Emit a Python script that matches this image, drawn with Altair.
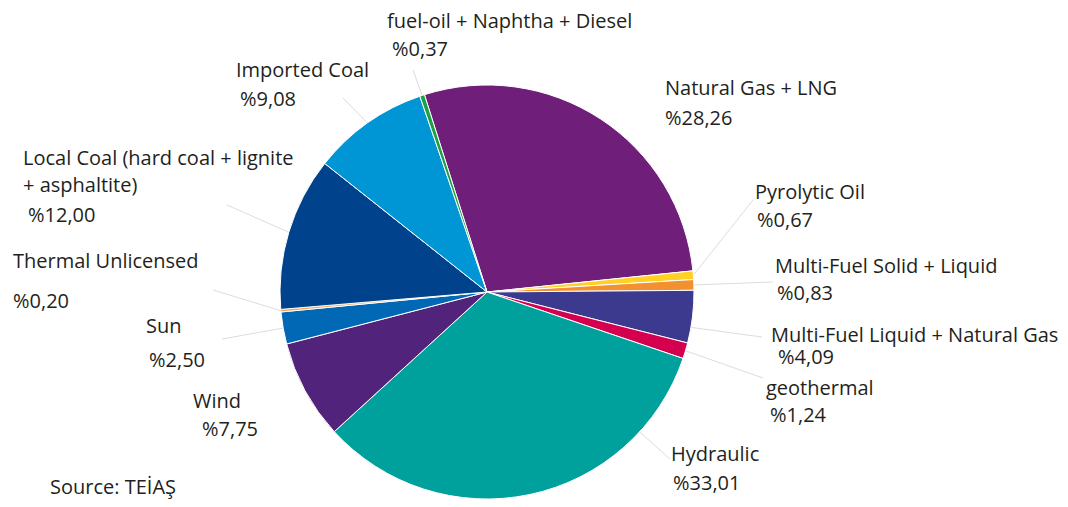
import math
import altair as alt
import pandas as pd

# ---- data ----
categories = [
    "Natural Gas + LNG",
    "Pyrolytic Oil",
    "Multi-Fuel Solid + Liquid",
    "Multi-Fuel Liquid + Natural Gas",
    "geothermal",
    "Hydraulic",
    "Wind",
    "Sun",
    "Thermal Unlicensed",
    "Local Coal (hard coal + lignite\n+ asphaltite)",
    "Imported Coal",
    "fuel-oil + Naphtha + Diesel",
]
shares = [28.26, 0.67, 0.83, 4.09, 1.24, 33.01, 7.75, 2.50, 0.20, 12.00, 9.08, 0.37]
colors = ["#6f1f7a", "#ffd124", "#f39131", "#3c3a8e", "#d4004f", "#00a19c",
          "#52237a", "#0068b4", "#f5a34f", "#00428b", "#0096d6", "#1fa044"]
source_text = ["Source: TEİAŞ"]

# ---- layout (page pixel positions of the annotations) ----
name_x = [665, 755, 775, 771, 766, 671, 193, 146, 13, 23, 236, 387]
name_y = [95, 199, 273, 342, 395, 461, 408, 333, 268, 165, 77, 28]
pct_x = [665, 757, 777, 778, 770, 673, 202, 149, 13, 28, 240, 392]
pct_y = [125, 227, 300, 364, 422, 490, 436, 367, 308, 222, 106, 56]
leader_end_x = [None, 753, 773, 762, 763, 670, None, 222, 213, 227, 343, 413]
leader_end_y = [None, 200, 282, 337, 378, 459, None, 339, 290, 205, 98, 70]
leader_anchor = [0.5, 0.5, 0.5, 0.7, 0.5, 0.2, 0.5, 0.5, 0.5, 0.5, 0.5, 0.5]

MARGIN = 8
W, H = 1052, 491
CX, CY, R = 487, 292, 207
START = math.radians(-17.6)

df = pd.DataFrame({
    "idx": list(range(len(categories))),
    "category": categories,
    "value": shares,
    "nx": name_x, "ny": name_y,
    "px": pct_x, "py": pct_y,
    "lx": leader_end_x, "ly": leader_end_y,
    "anchor": leader_anchor,
})

XS = alt.Scale(domain=[MARGIN, MARGIN + W], range=[0, W], nice=False, zero=False)
YS = alt.Scale(domain=[MARGIN, MARGIN + H], range=[0, H], nice=False, zero=False)

base = alt.Chart(df)

pie = base.mark_arc(outerRadius=R, stroke="white", strokeWidth=1).encode(
    theta=alt.Theta("value:Q", stack=True,
                    scale=alt.Scale(domain=[0, 100], range=[START, START + 2 * math.pi])),
    color=alt.Color("category:N", scale=alt.Scale(domain=categories, range=colors), legend=None),
    order=alt.Order("idx:Q", sort="ascending"),
    x=alt.value(CX - MARGIN),
    y=alt.value(CY - MARGIN),
)

leaders = base.transform_window(
    cum="sum(value)", sort=[alt.SortField("idx")]
).transform_calculate(
    ang=f"{START} + 2*PI*(datum.cum - datum.value*(1-datum.anchor))/100"
).transform_calculate(
    sx=f"{CX} + {R}*sin(datum.ang)",
    sy=f"{CY} - {R}*cos(datum.ang)",
).transform_filter(
    "isValid(datum.lx)"
).mark_rule(color="#dcdcdc", strokeWidth=1).encode(
    x=alt.X("sx:Q", scale=XS, axis=None),
    y=alt.Y("sy:Q", scale=YS, axis=None),
    x2="lx:Q",
    y2="ly:Q",
)

text_style = dict(font="Open Sans", fontSize=20, color="#231f20", align="left",
                  baseline="alphabetic")

names = base.mark_text(lineBreak="\n", lineHeight=27, **text_style).encode(
    x=alt.X("nx:Q", scale=XS, axis=None),
    y=alt.Y("ny:Q", scale=YS, axis=None),
    text="category:N",
)

pcts = base.transform_calculate(
    pct="'%' + replace(format(datum.value, '.2f'), '.', ',')"
).mark_text(**text_style).encode(
    x=alt.X("px:Q", scale=XS, axis=None),
    y=alt.Y("py:Q", scale=YS, axis=None),
    text="pct:N",
)

source = alt.Chart(pd.DataFrame({"t": source_text})).mark_text(**text_style).encode(
    x=alt.value(50 - MARGIN),
    y=alt.value(494 - MARGIN),
    text="t:N",
)

chart = alt.layer(leaders, pie, names, pcts, source).properties(
    width=W, height=H,
    autosize=alt.AutoSizeParams(type="none"),
    padding=0,
    background="white",
).configure_view(stroke=None)

chart.save("out.html", embed_options={"renderer": "svg", "actions": False})
